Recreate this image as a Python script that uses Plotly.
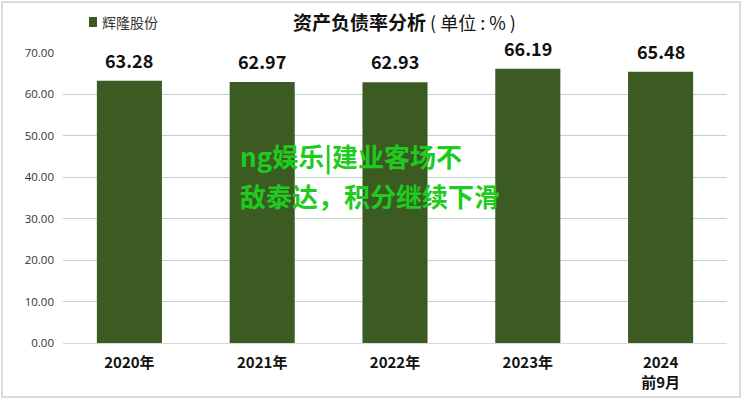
import plotly.graph_objects as go

categories = ["2020年", "2021年", "2022年", "2023年", "2024<br>前9月"]
values = [63.28, 62.97, 62.93, 66.19, 65.48]
series_name = "辉隆股份"
y_ticks = [0, 10, 20, 30, 40, 50, 60, 70]
y_tick_labels = ["0.00", "10.00", "20.00", "30.00", "40.00", "50.00", "60.00", "70.00"]

BAR = "#3c5b23"
CJK = "Noto Sans CJK SC"

W, H = 742, 400
L, R, T, B = 63, 15, 53, 57
pw, ph = W - L - R, H - T - B

def px(xp):
    return (xp - L) / pw

def py(yp):
    return (H - B - yp) / ph

fig = go.Figure()
fig.add_trace(go.Bar(
    x=categories, y=values, name=series_name,
    marker=dict(color=BAR, line=dict(width=0)),
    showlegend=False, hoverinfo="skip",
))

annotations = []
for c, v in zip(categories, values):
    annotations.append(dict(
        x=c, y=v, xref="x", yref="y", text=f"<b>{v:.2f}</b>",
        showarrow=False, yanchor="bottom", yshift=6,
        font=dict(family=CJK, size=18, color="#111111"),
    ))

annotations.append(dict(
    x=px(291), y=py(22), xref="paper", yref="paper",
    text="<b>资产负债率分析</b><span style='font-size:18px'> ( 单位 : % )</span>",
    showarrow=False, xanchor="left", yanchor="middle",
    font=dict(family=CJK, size=19, color="#111111"),
))
annotations.append(dict(
    x=px(100), y=py(22), xref="paper", yref="paper",
    text=series_name, showarrow=False, xanchor="left", yanchor="middle",
    font=dict(family=CJK, size=14, color="#333333"),
))
annotations.append(dict(
    x=px(238), y=py(156), xref="paper", yref="paper",
    text="<b>ng娱乐|建业客场不</b>", showarrow=False, xanchor="left", yanchor="middle",
    font=dict(family=CJK, size=26, color="#1ecb1e"),
))
annotations.append(dict(
    x=px(238), y=py(195), xref="paper", yref="paper",
    text="<b>敌泰达，积分继续下滑</b>", showarrow=False, xanchor="left", yanchor="middle",
    font=dict(family=CJK, size=26, color="#1ecb1e"),
))

shapes = [
    dict(type="rect", xref="paper", yref="paper",
         x0=px(89), x1=px(97), y0=py(17), y1=py(27),
         fillcolor=BAR, line=dict(width=0)),
    dict(type="rect", xref="paper", yref="paper",
         x0=px(2), x1=px(740), y0=py(397), y1=py(2),
         fillcolor="rgba(0,0,0,0)", line=dict(color="#d0d0d0", width=1.5)),
]

fig.update_layout(
    width=W, height=H,
    margin=dict(l=L, r=R, t=T, b=B, autoexpand=False),
    paper_bgcolor="white", plot_bgcolor="white",
    bargap=0.51,
    showlegend=False,
    hovermode=False,
    annotations=annotations,
    shapes=shapes,
    xaxis=dict(
        type="category", automargin=False,
        showgrid=False, showline=True, linecolor="#d9d9d9", linewidth=1,
        ticks="", tickfont=dict(family=CJK, size=15, color="#111111"),
        tickprefix="<b>", ticksuffix="</b>",
        ticklabelstandoff=6,
    ),
    yaxis=dict(
        range=[0, 70], tickvals=y_ticks, ticktext=y_tick_labels, automargin=False,
        showgrid=True, gridcolor="#bcd5c9", gridwidth=1,
        zeroline=False, showline=False, ticks="",
        tickfont=dict(family="Open Sans", size=11.5, color="#333333"),
        ticklabelstandoff=8,
    ),
)

fig.write_html(
    "out.html",
    config={"displayModeBar": False, "staticPlot": True},
    post_script="document.body.style.margin='0';document.body.style.overflow='hidden';",
)
